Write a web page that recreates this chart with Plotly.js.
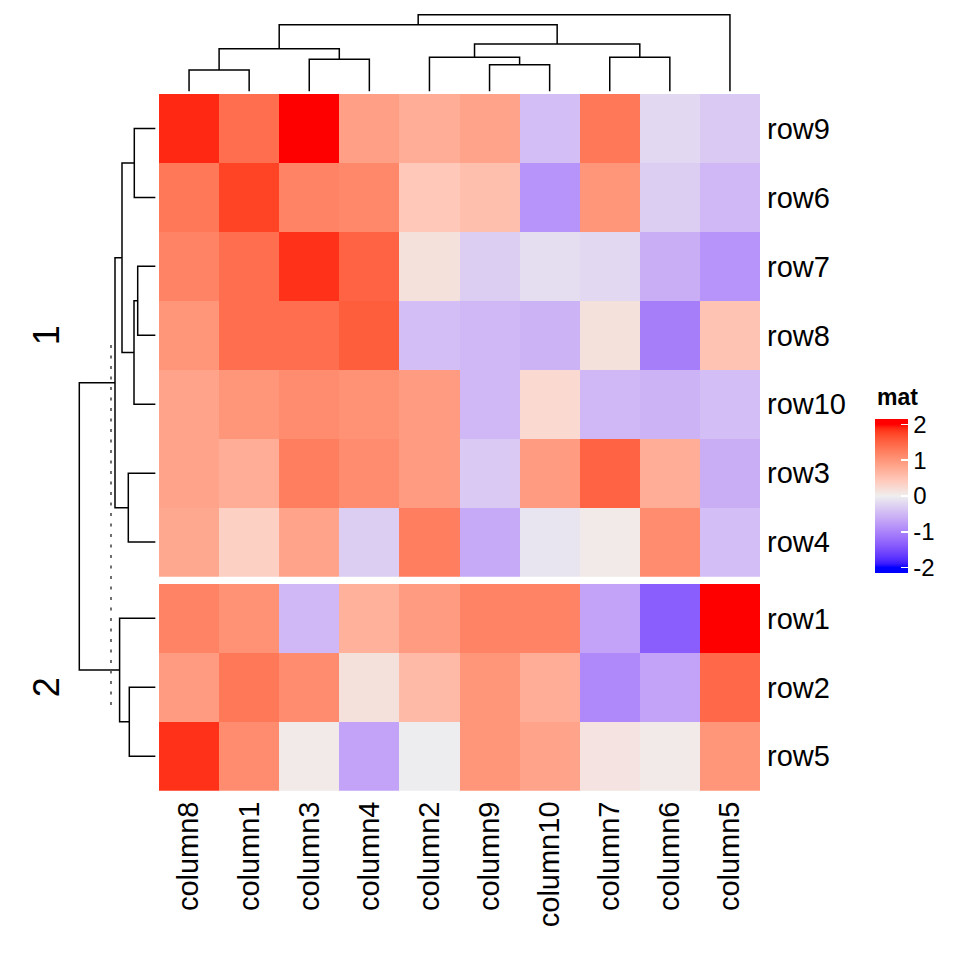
<!DOCTYPE html>
<html>
<head>
<meta charset="utf-8">
<script src="https://cdn.plot.ly/plotly-3.0.1.min.js"></script>
<style>html,body{margin:0;padding:0;background:#fff;}#chart{width:960px;height:960px;}</style>
</head>
<body>
<div id="chart"></div>
<script>
// ---------------- DATA ----------------
const columns = ['column8','column1','column3','column4','column2','column9','column10','column7','column6','column5'];
const rowsGroup1 = ['row9','row6','row7','row8','row10','row3','row4'];
const rowsGroup2 = ['row1','row2','row5'];
const groupTitles = ['1','2'];

// values in displayed column order
const row9  = [1.90, 1.40, 2.10, 0.90, 0.75, 0.85, -0.45, 1.30, -0.20, -0.35];
const row6  = [1.30, 1.75, 1.20, 1.15, 0.45, 0.55, -0.85, 1.00, -0.30, -0.50];
const row7  = [1.20, 1.40, 1.85, 1.50, 0.15, -0.30, -0.15, -0.20, -0.60, -0.85];
const row8  = [1.00, 1.40, 1.40, 1.55, -0.45, -0.50, -0.55, 0.15, -1.05, 0.50];
const row10 = [0.85, 1.00, 1.10, 1.05, 0.95, -0.50, 0.25, -0.50, -0.55, -0.45];
const row3  = [0.85, 0.75, 1.25, 1.10, 0.95, -0.35, 0.95, 1.50, 0.75, -0.60];
const row4  = [0.80, 0.35, 0.85, -0.30, 1.25, -0.65, -0.08, 0.05, 1.10, -0.45];
const row1  = [1.20, 1.05, -0.50, 0.70, 0.95, 1.20, 1.20, -0.70, -1.35, 2.05];
const row2  = [0.95, 1.30, 1.10, 0.15, 0.60, 1.00, 0.75, -0.95, -0.70, 1.45];
const row5  = [1.85, 1.10, 0.05, -0.70, -0.02, 1.00, 0.85, 0.12, 0.05, 1.00];

// column dendrogram: [left, right, height]; negative = leaf -(index+1) in display order, positive = merge number (1-based)
const colMerges = [
  [-1, -2, 21.5],
  [-3, -4, 32.2],
  [1, 2, 42.8],
  [-6, -7, 26.8],
  [-5, 4, 34.2],
  [-8, -9, 34.2],
  [5, 6, 47.5],
  [3, 7, 66.8],
  [8, -10, 76.8]
];
// row dendrogram (display order, rows 0..9 across both groups)
const rowMerges = [
  [-1, -2, 21.3],
  [-3, -4, 17.9],
  [2, -5, 21.6],
  [1, 3, 33.6],
  [-6, -7, 27.3],
  [4, 5, 40.6],
  [-9, -10, 26.3],
  [-8, 7, 36.0],
  [6, 8, 76.3]
];
const cutHeight = 44.6;
const cutExtent = [3.64, 8.91];

const legendTitle = 'mat';
const legendTicks = [-2, -1, 0, 1, 2];

// ---------------- COLOURS (colorRamp2 in LAB: blue, #EEEEEE, red) ----------------
function lin(c){c/=255;return c<=0.04045?c/12.92:Math.pow((c+0.055)/1.055,2.4);}
function delin(c){c=c<=0.0031308?12.92*c:1.055*Math.pow(c,1/2.4)-0.055;return Math.max(0,Math.min(255,Math.round(c*255)));}
const Xn=0.95047,Yn=1,Zn=1.08883;
function rgb2lab(rgb){
  const R=lin(rgb[0]),G=lin(rgb[1]),B=lin(rgb[2]);
  const X=(0.4124*R+0.3576*G+0.1805*B)/Xn,Y=(0.2126*R+0.7152*G+0.0722*B)/Yn,Z=(0.0193*R+0.1192*G+0.9505*B)/Zn;
  const f=t=>t>0.008856?Math.cbrt(t):7.787*t+16/116;
  const fx=f(X),fy=f(Y),fz=f(Z);
  return [116*fy-16,500*(fx-fy),200*(fy-fz)];
}
function lab2rgb(lab){
  const fy=(lab[0]+16)/116,fx=fy+lab[1]/500,fz=fy-lab[2]/200;
  const fi=t=>t>0.206893?t*t*t:(t-16/116)/7.787;
  const X=fi(fx)*Xn,Y=fi(fy)*Yn,Z=fi(fz)*Zn;
  const R=3.2406*X-1.5372*Y-0.4986*Z,G=-0.9689*X+1.8758*Y+0.0415*Z,B=0.0557*X-0.2040*Y+1.0570*Z;
  return 'rgb('+delin(R)+','+delin(G)+','+delin(B)+')';
}
const labBlue=rgb2lab([0,0,255]),labMid=rgb2lab([238,238,238]),labRed=rgb2lab([255,0,0]);
function colAt(v){
  v=Math.max(-2,Math.min(2,v));
  let a,b,t;
  if(v<0){a=labMid;b=labBlue;t=-v/2;}else{a=labMid;b=labRed;t=v/2;}
  return lab2rgb([a[0]+(b[0]-a[0])*t,a[1]+(b[1]-a[1])*t,a[2]+(b[2]-a[2])*t]);
}
const cmin=-2.15,cmax=2.15;
const stopVals=[cmin];
for(let k=-20;k<=20;k++) stopVals.push(k/10);
stopVals.push(cmax);
const colorscale=stopVals.map(v=>[(v-cmin)/(cmax-cmin),colAt(v)]);

// ---------------- GEOMETRY (pixels) ----------------
const W=960,H=960;
const hmLeft=159,hmRight=760;
const g1Top=94,g1Bot=576.7,g2Top=584,g2Bot=790.7;
const unitPx=(g1Bot-g1Top)/rowsGroup1.length;
const gapUnits=(g2Top-g1Bot)/unitPx;
const py=p=>1-p/H, px=p=>p/W;

const fontFam='"Liberation Sans", Arial, Helvetica, sans-serif';

// ---------------- DENDROGRAM LINES ----------------
function dendroLines(merges, leafPos){
  const pos=[],hgt=[];
  const get=i=>i<0?[leafPos[-i-1],0]:[pos[i-1],hgt[i-1]];
  const a=[],b=[];
  merges.forEach(m=>{
    const [p1,h1]=get(m[0]),[p2,h2]=get(m[1]),h=m[2];
    a.push(p1,p1,p2,p2,null); b.push(h1,h,h,h2,null);
    pos.push((p1+p2)/2); hgt.push(h);
  });
  return {pos:a,h:b};
}
const colLeaf=columns.map((c,i)=>i);
const rowLeaf=rowsGroup1.map((r,i)=>i+0.5).concat(rowsGroup2.map((r,i)=>rowsGroup1.length+gapUnits+i+0.5));
const cd=dendroLines(colMerges,colLeaf);
const rd=dendroLines(rowMerges,rowLeaf);

const zG1=[row9,row6,row7,row8,row10,row3,row4];
const zG2=[row1,row2,row5];

const traces=[
  {type:'heatmap',x:columns,y:rowsGroup1,z:zG1,xaxis:'x',yaxis:'y',coloraxis:'coloraxis',hoverinfo:'x+y+z'},
  {type:'heatmap',x:columns,y:rowsGroup2,z:zG2,xaxis:'x',yaxis:'y2',coloraxis:'coloraxis',hoverinfo:'x+y+z'},
  {type:'scatter',mode:'lines',x:cd.pos,y:cd.h,xaxis:'x2',yaxis:'y3',line:{color:'#000',width:1.5},hoverinfo:'skip',showlegend:false},
  {type:'scatter',mode:'lines',x:rd.h,y:rd.pos,xaxis:'x3',yaxis:'y4',line:{color:'#000',width:1.5},hoverinfo:'skip',showlegend:false},
  {type:'scatter',mode:'lines',x:[cutHeight,cutHeight],y:cutExtent,xaxis:'x3',yaxis:'y4',line:{color:'#555',width:1.7,dash:'3px,7.5px'},hoverinfo:'skip',showlegend:false}
];

const hid={visible:false,showgrid:false,zeroline:false,fixedrange:true};
const dendTopBase=91.5;
const leftBase=155.6;
const barTop=419.1,barBot=572.9;

const layout={
  width:W,height:H,margin:{l:0,r:0,t:0,b:0},
  paper_bgcolor:'#fff',plot_bgcolor:'rgba(0,0,0,0)',showlegend:false,
  font:{family:fontFam,color:'#000'},
  xaxis:{domain:[px(hmLeft),px(hmRight)],anchor:'y2',type:'category',categoryarray:columns,
         tickangle:-90,tickfont:{size:29,family:fontFam},ticks:'',showgrid:false,zeroline:false,showline:false,ticklabelstandoff:4},
  yaxis:{domain:[py(g1Bot),py(g1Top)],anchor:'x',side:'right',type:'category',autorange:'reversed',
         tickfont:{size:29,family:fontFam},ticks:'',showgrid:false,zeroline:false,showline:false,ticklabelstandoff:6},
  yaxis2:{domain:[py(g2Bot),py(g2Top)],anchor:'x',side:'right',type:'category',autorange:'reversed',
         tickfont:{size:29,family:fontFam},ticks:'',showgrid:false,zeroline:false,showline:false,ticklabelstandoff:6},
  xaxis2:Object.assign({},hid,{domain:[px(hmLeft),px(hmRight)],range:[-0.5,columns.length-0.5],anchor:'y3'}),
  yaxis3:Object.assign({},hid,{domain:[py(dendTopBase),py(dendTopBase-82)],range:[0,82],anchor:'x2'}),
  xaxis3:Object.assign({},hid,{domain:[0,px(leftBase)],range:[leftBase,0],anchor:'y4'}),
  yaxis4:Object.assign({},hid,{domain:[py(g2Bot),py(g1Top)],range:[rowsGroup1.length+gapUnits+rowsGroup2.length,0],anchor:'x3'}),
  coloraxis:{cmin:cmin,cmax:cmax,colorscale:colorscale,
    colorbar:{x:px(875),xanchor:'left',y:py((barTop+barBot)/2),yanchor:'middle',lenmode:'pixels',len:barBot-barTop,
      thickness:33,thicknessmode:'pixels',outlinewidth:0,xpad:0,ypad:0,
      tickvals:legendTicks,ticktext:legendTicks.map(String),ticks:'inside',ticklen:7,tickwidth:1.5,tickcolor:'#fff',
      tickfont:{size:24,family:fontFam,color:'#000'},title:{text:''}}},
  annotations:[
    {text:groupTitles[0],xref:'paper',yref:'paper',x:px(46),y:py((g1Top+g1Bot)/2),textangle:-90,showarrow:false,
     font:{size:36,family:fontFam},xanchor:'center',yanchor:'middle'},
    {text:groupTitles[1],xref:'paper',yref:'paper',x:px(46),y:py((g2Top+g2Bot)/2),textangle:-90,showarrow:false,
     font:{size:36,family:fontFam},xanchor:'center',yanchor:'middle'},
    {text:'<b>'+legendTitle+'</b>',xref:'paper',yref:'paper',x:px(875),y:py(397),xanchor:'left',yanchor:'middle',showarrow:false,
     font:{size:23,family:fontFam}}
  ],
  shapes:legendTicks.map(v=>{
    const yy=barBot-(v-cmin)/(cmax-cmin)*(barBot-barTop);
    return {type:'line',xref:'paper',yref:'paper',x0:px(875),x1:px(882),y0:py(yy),y1:py(yy),line:{color:'#fff',width:1.5}};
  })
};

Plotly.newPlot('chart',traces,layout,{displayModeBar:false,staticPlot:true});
</script>
</body>
</html>
